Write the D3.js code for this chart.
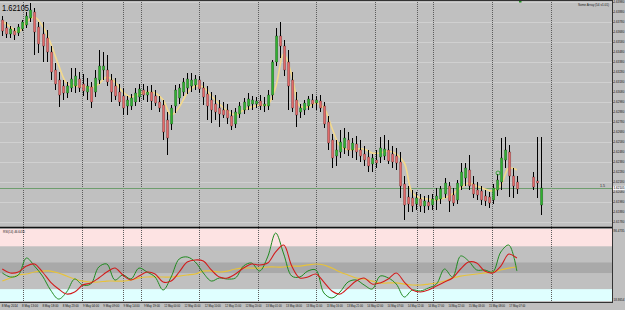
<!DOCTYPE html>
<html>
<head>
<meta charset="utf-8">
<script src="https://cdn.jsdelivr.net/npm/d3@7"></script>
<style>
  html, body { margin: 0; padding: 0; background: #c0c0c0; }
  svg { display: block; font-family: "Liberation Sans", Arial, sans-serif; }
</style>
</head>
<body>
<svg id="chart" width="625" height="310"></svg>
<script>
// ---- data ----
const barOpen = [1.6380,1.6372,1.6366,1.6369,1.6367,1.6371,1.6375,1.6382,1.6388,1.6373,
  1.6366,1.6362,1.6348,1.6330,1.6320,1.6314,1.6307,1.6312,1.6314,1.6321,
  1.6316,1.6308,1.6313,1.6308,1.6320,1.6330,1.6330,1.6320,1.6314,1.6308,
  1.6304,1.6294,1.6294,1.6298,1.6303,1.6310,1.6305,1.6308,1.6304,1.6298,
  1.6295,1.6280,1.6276,1.6294,1.6302,1.6308,1.6312,1.6314,1.6315,1.6320,
  1.6312,1.6306,1.6300,1.6296,1.6292,1.6290,1.6290,1.6284,1.6276,1.6286,
  1.6290,1.6294,1.6296,1.6296,1.6299,1.6294,1.6294,1.6305,1.6338,1.6364,
  1.6354,1.6338,1.6320,1.6300,1.6288,1.6290,1.6294,1.6300,1.6297,1.6299,
  1.6294,1.6278,1.6260,1.6244,1.6248,1.6252,1.6260,1.6250,1.6256,1.6250,
  1.6246,1.6243,1.6236,1.6240,1.6243,1.6244,1.6250,1.6246,1.6244,1.6238,
  1.6216,1.6203,1.6202,1.6196,1.6201,1.6194,1.6198,1.6195,1.6200,1.6201,
  1.6206,1.6214,1.6205,1.6200,1.6214,1.6222,1.6230,1.6216,1.6210,1.6209,
  1.6204,1.6203,1.6200,1.6210,1.6218,1.6240,1.6248,1.6224,1.6218,null,
  null,null,1.6223,1.6219,1.6195];
const barHigh = [1.6384,1.6378,1.6374,1.6372,1.6376,1.6380,1.6388,1.6397,1.6392,1.6378,
  1.6378,1.6370,1.6354,1.6337,1.6328,1.6320,1.6318,1.6332,1.6332,1.6328,
  1.6326,1.6322,1.6318,1.6330,1.6350,1.6348,1.6345,1.6326,1.6322,1.6316,
  1.6312,1.6304,1.6306,1.6312,1.6316,1.6316,1.6314,1.6315,1.6310,1.6304,
  1.6300,1.6288,1.6295,1.6315,1.6316,1.6322,1.6327,1.6327,1.6325,1.6324,
  1.6318,1.6314,1.6308,1.6305,1.6300,1.6298,1.6296,1.6290,1.6292,1.6298,
  1.6302,1.6307,1.6304,1.6303,1.6305,1.6303,1.6310,1.6340,1.6372,1.6378,
  1.6360,1.6350,1.6328,1.6308,1.6296,1.6300,1.6304,1.6306,1.6304,1.6305,
  1.6298,1.6284,1.6266,1.6260,1.6270,1.6272,1.6268,1.6262,1.6264,1.6260,
  1.6254,1.6250,1.6246,1.6250,1.6263,1.6265,1.6260,1.6254,1.6252,1.6248,
  1.6224,1.6214,1.6210,1.6208,1.6206,1.6204,1.6205,1.6206,1.6212,1.6214,
  1.6222,1.6218,1.6212,1.6220,1.6237,1.6237,1.6245,1.6224,1.6218,1.6214,
  1.6210,1.6208,1.6216,1.6226,1.6262,1.6263,1.6255,1.6232,1.6224,null,
  null,null,1.6228,1.6263,1.6263];
const barLow = [1.6364,1.6362,1.6362,1.6360,1.6364,1.6369,1.6372,1.6378,1.6345,1.6347,
  1.6338,1.6338,1.6320,1.6310,1.6293,1.6300,1.6302,1.6308,1.6307,1.6308,
  1.6304,1.6300,1.6292,1.6303,1.6316,1.6320,1.6314,1.6298,1.6300,1.6294,
  1.6285,1.6285,1.6290,1.6294,1.6298,1.6300,1.6298,1.6290,1.6294,1.6288,
  1.6260,1.6245,1.6270,1.6287,1.6296,1.6304,1.6306,1.6308,1.6310,1.6307,
  1.6295,1.6280,1.6277,1.6280,1.6273,1.6282,1.6276,1.6270,1.6272,1.6282,
  1.6286,1.6290,1.6290,1.6292,1.6290,1.6288,1.6290,1.6300,1.6334,1.6342,
  1.6324,1.6290,1.6288,1.6273,1.6282,1.6285,1.6290,1.6292,1.6290,1.6288,
  1.6272,1.6250,1.6232,1.6234,1.6242,1.6246,1.6244,1.6242,1.6240,1.6238,
  1.6234,1.6228,1.6228,1.6232,1.6237,1.6240,1.6236,1.6232,1.6230,1.6202,
  1.6180,1.6188,1.6188,1.6190,1.6188,1.6187,1.6190,1.6190,1.6190,1.6196,
  1.6202,1.6188,1.6194,1.6196,1.6210,1.6214,1.6210,1.6202,1.6200,1.6195,
  1.6194,1.6192,1.6196,1.6204,1.6210,1.6232,1.6203,1.6202,1.6206,null,
  null,null,1.6210,1.6202,1.6185];
const barClose = [1.6369,1.6366,1.6371,1.6365,1.6373,1.6378,1.6384,1.6390,1.6368,1.6356,
  1.6354,1.6348,1.6328,1.6316,1.6305,1.6307,1.6314,1.6321,1.6324,1.6312,
  1.6309,1.6314,1.6298,1.6322,1.6334,1.6334,1.6318,1.6308,1.6304,1.6298,
  1.6292,1.6300,1.6302,1.6307,1.6311,1.6305,1.6308,1.6299,1.6297,1.6292,
  1.6268,1.6262,1.6292,1.6310,1.6312,1.6318,1.6321,1.6320,1.6321,1.6311,
  1.6303,1.6294,1.6290,1.6288,1.6286,1.6285,1.6282,1.6274,1.6288,1.6294,
  1.6298,1.6301,1.6300,1.6299,1.6294,1.6296,1.6305,1.6338,1.6364,1.6354,
  1.6330,1.6314,1.6292,1.6285,1.6292,1.6297,1.6301,1.6296,1.6300,1.6292,
  1.6276,1.6257,1.6242,1.6250,1.6258,1.6262,1.6250,1.6257,1.6248,1.6244,
  1.6240,1.6234,1.6242,1.6237,1.6252,1.6251,1.6239,1.6238,1.6237,1.6214,
  1.6195,1.6196,1.6194,1.6202,1.6194,1.6199,1.6194,1.6201,1.6204,1.6211,
  1.6217,1.6199,1.6197,1.6217,1.6228,1.6232,1.6214,1.6206,1.6205,1.6200,
  1.6199,1.6197,1.6212,1.6220,1.6242,1.6250,1.6224,1.6214,1.6211,null,
  null,null,1.6213,1.6217,1.6212];

// moving average, one value every second bar
const maValues = [1.6379,1.6373,1.6368,1.6378,1.6383,1.6374,1.6357,1.6335,1.6317,1.6314,
  1.6314,1.6312,1.6316,1.6323,1.6318,1.6308,1.6303,1.6306,1.6308,1.6307,
  1.6300,1.6285,1.6293,1.6307,1.6314,1.6313,1.6304,1.6296,1.6289,1.6285,
  1.6290,1.6293,1.6295,1.6295,1.6313,1.6346,1.6325,1.6294,1.6293,1.6297,
  1.6292,1.6272,1.6254,1.6250,1.6251,1.6251,1.6247,1.6247,1.6249,1.6246,
  1.6237,1.6207,1.6202,1.6201,1.6200,1.6202,1.6206,1.6212,1.6217,1.6214,
  1.6211,1.6209,1.6215,1.6232,1.6230];

// oscillator window, one value every second bar
const oscFast = [45.2,41.4,43.3,59.2,51.7,42.3,29.2,20.7,27.3,39.5,
  33.9,34.8,50.8,53.6,38.6,43.3,39.5,49.8,46.1,41.4,
  29.2,41.4,58.3,60.2,55.5,45.2,37.6,40.5,39.5,40.5,
  51.7,54.5,47.0,60.2,82.7,63.0,42.3,41.4,47.0,48.0,
  26.4,21.7,27.3,36.7,38.6,33.9,30.1,42.3,40.5,34.8,
  22.6,29.2,28.3,31.1,34.8,48.9,41.4,61.1,56.4,48.0,
  48.0,46.1,64.9,71.4,47.0];
const oscSignal = [48.9,45.2,46.1,51.7,53.6,46.1,36.7,30.1,25.4,27.3,
  33.9,35.8,40.5,46.1,49.8,43.3,38.6,42.3,46.1,44.2,
  36.7,37.6,46.1,55.5,57.4,56.4,48.0,41.4,40.5,44.2,
  49.8,53.6,52.7,54.5,64.9,71.4,51.7,40.5,41.4,44.2,
  36.7,28.3,25.4,31.1,37.6,40.5,34.8,35.8,39.5,45.2,
  36.7,29.2,27.3,29.2,33.0,36.7,40.5,48.9,55.5,54.5,
  47.0,45.2,51.7,63.0,59.2];
const oscSlow = [37.6,40.5,43.3,44.2,46.1,47.0,47.0,45.2,42.3,39.5,
  37.6,36.7,36.7,37.6,37.6,37.6,38.6,40.5,41.4,41.4,
  41.4,41.4,42.3,43.3,44.2,47.0,47.0,46.1,47.0,48.9,
  49.8,49.8,49.8,50.8,50.8,50.8,51.7,51.7,52.7,53.6,
  52.7,49.8,46.1,43.3,40.5,39.5,37.6,35.8,35.8,35.8,
  34.8,33.9,33.9,34.8,35.8,37.6,40.5,42.3,43.3,44.2,
  45.2,46.1,48.0,49.8,50.8];
const oscLevels = [70, 55, 45, 30];
const oscRange = [18.8654, 86.4735];

const priceTicks = [1.6398,1.6388,1.6378,1.6368,1.6358,1.6348,1.6338,1.6328,1.6318,1.6308,
  1.6298,1.6288,1.6278,1.6268,1.6258,1.6248,1.6238,1.6228,1.6218,1.6208,
  1.6198,1.6188,1.6178];
const bidPrice = 1.6212;
const gridBars = [5.2, 19.8, 30, 34.5, 48.9, 63.6, 78, 92.7, 103.2, 107.2, 121.8, 136.5];
const timeLabels = ["8 May 2014","8 May 13:00","8 May 18:00","8 May 23:00","9 May 04:00",
  "9 May 09:00","9 May 14:00","9 May 19:00","12 May 00:00","12 May 05:00","12 May 10:00",
  "12 May 15:00","12 May 20:00","13 May 01:00","13 May 06:00","13 May 11:00","13 May 16:00",
  "13 May 21:00","14 May 02:00","14 May 07:00","14 May 12:00","14 May 17:00","14 May 22:00",
  "15 May 03:00","15 May 08:00","17 May 07:00"];
const markerBar = [123.3];
const markerPrice = [1.6227];

// ---- layout ----
const plotRight = 612;
const mainBottom = 226;
const subTop = 229, subBottom = 301;

const x = d3.scaleLinear().domain([0, 134]).range([2.3, 541]);
const y = d3.scaleLinear().domain([1.6174, 1.6400]).range([mainBottom, 0]);
const yOsc = d3.scaleLinear().domain(oscRange).range([subBottom, subTop]);

const svg = d3.select("#chart");
svg.append("rect").attr("width", 625).attr("height", 310).attr("fill", "#c0c0c0");

// indicator bands
const bandEdges = [oscRange[1], ...oscLevels, oscRange[0]];
const bandFill = ["#fde3e3", "#c0c0c0", "#a9a9a9", "#c0c0c0", "#dfffff"];
svg.append("g").selectAll("rect")
  .data(d3.pairs(bandEdges))
  .join("rect")
  .attr("x", 0).attr("width", plotRight)
  .attr("y", d => yOsc(d[0]))
  .attr("height", d => yOsc(d[1]) - yOsc(d[0]))
  .attr("fill", (d, i) => bandFill[i]);

// horizontal grid (main)
svg.append("g").selectAll("line")
  .data(priceTicks.filter((d, i) => i % 2 === 0))
  .join("line")
  .attr("x1", 0).attr("x2", plotRight)
  .attr("y1", d => Math.round(y(d)) + 0.5).attr("y2", d => Math.round(y(d)) + 0.5)
  .attr("stroke", "#d0d0d0").attr("stroke-width", 1);

// vertical dotted grid
svg.append("g").selectAll("line")
  .data(gridBars)
  .join("line")
  .attr("x1", d => Math.round(x(d)) + 0.5).attr("x2", d => Math.round(x(d)) + 0.5)
  .attr("y1", 0).attr("y2", subBottom)
  .attr("stroke", "#5c5c5c").attr("stroke-width", 1)
  .attr("stroke-dasharray", "1,1");

// bid line
svg.append("line")
  .attr("x1", 0).attr("x2", plotRight)
  .attr("y1", Math.round(y(bidPrice)) + 0.5).attr("y2", Math.round(y(bidPrice)) + 0.5)
  .attr("stroke", "#6e9e6e").attr("stroke-width", 1);
svg.append("text")
  .attr("x", 600).attr("y", y(bidPrice) - 1.2)
  .attr("font-size", 3.6).attr("fill", "#222").text("1.5");

// moving average
const maLine = d3.line()
  .x((d, i) => x(i * 2)).y(d => y(d))
  .curve(d3.curveCatmullRom);
svg.append("path").datum(maValues)
  .attr("d", maLine).attr("fill", "none")
  .attr("stroke", "#f3d98c").attr("stroke-width", 1.6);

// candles
const bars = barOpen.map((o, i) => ({ i, o, h: barHigh[i], l: barLow[i], c: barClose[i] }))
  .filter(d => d.o != null);
const gBars = svg.append("g");
gBars.selectAll("line")
  .data(bars)
  .join("line")
  .attr("x1", d => Math.round(x(d.i)) + 0.5).attr("x2", d => Math.round(x(d.i)) + 0.5)
  .attr("y1", d => y(d.h)).attr("y2", d => y(d.l))
  .attr("stroke", "#000").attr("stroke-width", 1);
gBars.selectAll("rect")
  .data(bars)
  .join("rect")
  .attr("x", d => Math.round(x(d.i)) - 0.6)
  .attr("width", 2.4)
  .attr("y", d => y(Math.max(d.o, d.c)))
  .attr("height", d => Math.max(1, Math.abs(y(d.o) - y(d.c))))
  .attr("fill", d => d.c >= d.o ? "#30b030" : "#e26a6a")
  .attr("stroke", "rgba(0,0,0,0.4)").attr("stroke-width", 0.5);

// markers
svg.append("g").selectAll("circle")
  .data(markerBar)
  .join("circle")
  .attr("cx", d => x(d)).attr("cy", (d, i) => y(markerPrice[i]))
  .attr("r", 2).attr("fill", "none").attr("stroke", "#1c9a1c").attr("stroke-width", 0.8);
svg.append("rect").attr("x", 519).attr("y", 0).attr("width", 2.5).attr("height", 2.5).attr("fill", "#1f8f1f");

// oscillator lines
const oscLine = d3.line()
  .x((d, i) => x(i * 2)).y(d => yOsc(d))
  .curve(d3.curveCatmullRom);
[[oscSlow, "#e7c23a", 1.2], [oscFast, "#1f8a1f", 1], [oscSignal, "#d21c1c", 1.1]].forEach(([s, col, w]) => {
  svg.append("path").datum(s)
    .attr("d", oscLine).attr("fill", "none")
    .attr("stroke", col).attr("stroke-width", w);
});

// frame lines
svg.append("line").attr("x1", 0).attr("x2", plotRight).attr("y1", 0.5).attr("y2", 0.5)
  .attr("stroke", "#333");
svg.append("line").attr("x1", 0).attr("x2", plotRight).attr("y1", 227.5).attr("y2", 227.5)
  .attr("stroke", "#111").attr("stroke-width", 1.5);
svg.append("line").attr("x1", 0).attr("x2", plotRight).attr("y1", subBottom + 1.5).attr("y2", subBottom + 1.5)
  .attr("stroke", "#333");
svg.append("line").attr("x1", plotRight + 0.5).attr("x2", plotRight + 0.5).attr("y1", 0).attr("y2", subBottom + 2)
  .attr("stroke", "#333");

// price axis: small type so the labels fit the narrow strip
const gAxis = svg.append("g").attr("font-size", 3).attr("fill", "#111");
gAxis.selectAll("line")
  .data(priceTicks)
  .join("line")
  .attr("x1", plotRight).attr("x2", plotRight + 1.5)
  .attr("y1", d => Math.round(y(d)) + 0.5).attr("y2", d => Math.round(y(d)) + 0.5)
  .attr("stroke", "#333");
gAxis.selectAll("text")
  .data(priceTicks)
  .join("text")
  .attr("x", plotRight + 1.6).attr("y", d => y(d) + 1.1)
  .text(d => d3.format(".5f")(d));
svg.append("rect").attr("x", plotRight + 1).attr("y", y(bidPrice) - 2.2)
  .attr("width", 11.8).attr("height", 4.4).attr("fill", "#f4f4f4");
svg.append("text").attr("x", plotRight + 1.6).attr("y", y(bidPrice) + 1.1)
  .attr("font-size", 3).attr("fill", "#000")
  .text("1.62105");

// oscillator axis
svg.append("g").attr("font-size", 3).attr("fill", "#111")
  .selectAll("text")
  .data([oscRange[1], oscRange[0]])
  .join("text")
  .attr("x", plotRight + 1.6)
  .attr("y", (d, i) => i === 0 ? subTop + 3 : subBottom)
  .text(d => d3.format(".4f")(d));

// time axis
svg.append("g").attr("font-size", 3.6).attr("fill", "#111")
  .selectAll("text")
  .data(timeLabels)
  .join("text")
  .attr("x", (d, k) => x(k * 5.05) - 0.5)
  .attr("y", 307)
  .attr("textLength", 16).attr("lengthAdjust", "spacingAndGlyphs")
  .text(d => d);

// captions
svg.append("text").attr("x", 2).attr("y", 10.5)
  .attr("font-size", 9).attr("fill", "#000")
  .attr("textLength", 27).attr("lengthAdjust", "spacingAndGlyphs")
  .text("1.62105");
svg.append("text").attr("x", 578).attr("y", 5.5)
  .attr("font-size", 3.6).attr("fill", "#222")
  .attr("textLength", 31).attr("lengthAdjust", "spacingAndGlyphs")
  .text("Some Array (54 v1.01)");
svg.append("text").attr("x", 3).attr("y", 233)
  .attr("font-size", 3.6).attr("fill", "#222")
  .attr("textLength", 22).attr("lengthAdjust", "spacingAndGlyphs")
  .text("RSI(14) 46.6435");
</script>
</body>
</html>
